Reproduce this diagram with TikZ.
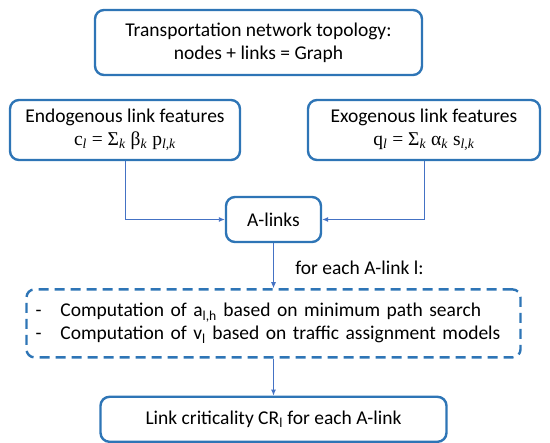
\documentclass[tikz,border=0pt]{standalone}
\usepackage{fontspec}
\setmainfont{Carlito}
\newfontfamily\formfont{Liberation Serif}
\usepackage{xcolor}
\usetikzlibrary{arrows.meta,positioning}
\definecolor{boxblue}{HTML}{2E75B6}
\definecolor{lineblue}{HTML}{4472C4}

\begin{document}
\begin{tikzpicture}[
    x=1pt, y=-1pt,
    flowbox/.style={
      draw=boxblue,
      line width=2.4pt,
      fill=white,
      rounded corners=9pt,
      align=center,
      inner sep=2pt,
      font=\fontsize{19.5}{23}\selectfont
    },
    dashbox/.style={
      flowbox,
      dash pattern=on 10pt off 6pt,
      rounded corners=8pt,
      align=left,
      inner xsep=9pt,
      text width=476pt,
      minimum height=68pt
    },
    arrow/.style={-{Latex[length=6pt,width=5pt]}, line width=0.9pt, draw=lineblue}
  ]
    \useasboundingbox (0,0) rectangle (550,443);

    \node[flowbox, minimum width=327pt, minimum height=65pt] (topo) at (258.5,42.5)
      {Transportation network topology:\\nodes + links = Graph};
    \node[flowbox, minimum width=230pt, minimum height=60pt] (endo) at (125,130)
      {Endogenous link features\\{\formfont c\textsubscript{\textit{l}} = Σ\textsubscript{\textit{k}} β\textsubscript{\textit{k}} p\textsubscript{\textit{l,k}}}};
    \node[flowbox, minimum width=232pt, minimum height=60pt] (exo) at (424,130)
      {Exogenous link features\\{\formfont q\textsubscript{\textit{l}} = Σ\textsubscript{\textit{k}} α\textsubscript{\textit{k}} s\textsubscript{\textit{l,k}}}};
    \node[flowbox, minimum width=95pt, minimum height=45pt] (alinks) at (273.5,219.5)
      {A-links};
    \node[dashbox, below=45pt of alinks] (comp)
      {\makebox[25pt][l]{-}Computation of a\textsubscript{l,h} based on minimum path search\\
       \makebox[25pt][l]{-}Computation of v\textsubscript{l} based on traffic assignment models};
    \node[flowbox, minimum width=346pt, minimum height=45pt, below=37pt of comp] (crit)
      {Link criticality CR\textsubscript{l} for each A-link};

    \draw[arrow] (endo.south) |- (alinks.west);
    \draw[arrow] (exo.south) |- (alinks.east);
    \draw[arrow] (alinks) -- node[pos=0.55, right=18pt, font=\fontsize{19.5}{23}\selectfont]
      (foreach) {for each A-link l:} (comp);
    \draw[arrow] (comp) -- (crit);
  \end{tikzpicture}
\end{document}
